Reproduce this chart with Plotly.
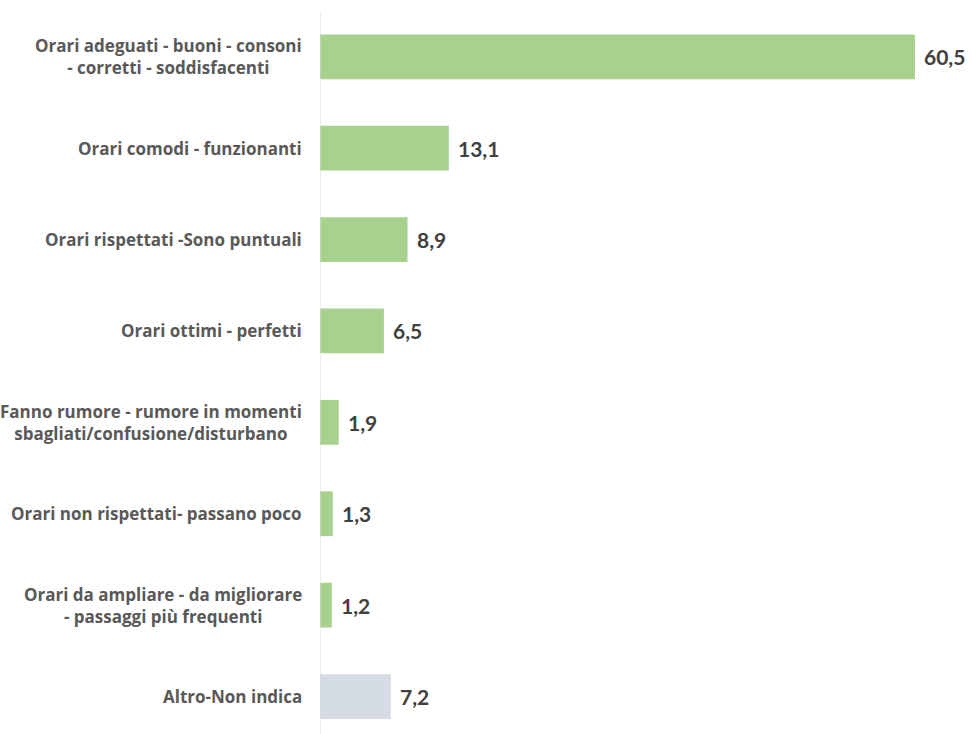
import plotly.graph_objects as go

categories = [
    "Orari adeguati - buoni - consoni<br>- corretti - soddisfacenti",
    "Orari comodi - funzionanti",
    "Orari rispettati -Sono puntuali",
    "Orari ottimi - perfetti",
    "Fanno rumore - rumore in momenti<br>sbagliati/confusione/disturbano",
    "Orari non rispettati- passano poco",
    "Orari da ampliare - da migliorare<br>- passaggi più frequenti",
    "Altro-Non indica",
]
values = [60.5, 13.1, 8.9, 6.5, 1.9, 1.3, 1.2, 7.2]
value_labels = ["60,5", "13,1", "8,9", "6,5", "1,9", "1,3", "1,2", "7,2"]
colors = ["#a9d18e"] * 7 + ["#d6dce5"]

idx = list(range(len(categories)))

fig = go.Figure()
fig.add_trace(go.Bar(
    x=values, y=idx, orientation="h",
    marker=dict(color=colors, line=dict(width=0)),
    width=0.49,
    hoverinfo="skip",
))

annotations = []
for i, (c, v, t) in enumerate(zip(categories, values, value_labels)):
    annotations.append(dict(
        x=0, xref="paper", y=i, yref="y", text=c, showarrow=False,
        xanchor="right", yanchor="middle", align="center", xshift=-16,
        font=dict(family="Century Gothic, Open Sans", size=17, color="#595959", weight="bold"),
    ))
    annotations.append(dict(
        x=v, xref="x", y=i, yref="y", text=t, showarrow=False,
        xanchor="left", yanchor="middle", xshift=7,
        font=dict(family="Lato", size=21, color="#404040", weight="bold"),
    ))

fig.update_layout(
    width=971, height=734,
    margin=dict(l=320, r=0, t=12, b=0),
    plot_bgcolor="white", paper_bgcolor="white",
    showlegend=False,
    bargap=0.5,
    xaxis=dict(range=[0, 66.2], visible=False, showgrid=False, zeroline=False),
    yaxis=dict(range=[7.41, -0.49], showticklabels=False, showgrid=False,
               zeroline=False, showline=False, ticks=""),
    annotations=annotations,
    shapes=[dict(type="line", xref="x", yref="paper", x0=0, x1=0, y0=0, y1=1,
                 line=dict(color="#d9d9d9", width=1))],
)

fig.write_html("out.html")
